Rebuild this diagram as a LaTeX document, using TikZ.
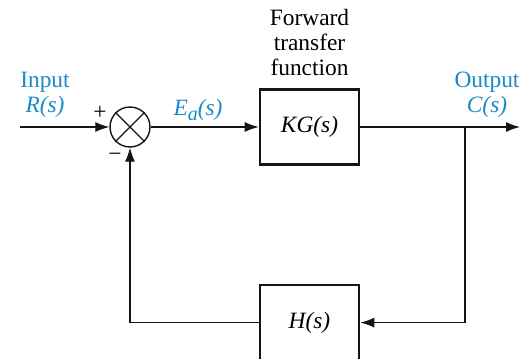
\documentclass[tikz,border=0pt]{standalone}
\usepackage{fontspec}
\setmainfont{Liberation Serif}
\usetikzlibrary{arrows.meta,positioning}
\definecolor{LabelBlue}{HTML}{1A8BC8}
\definecolor{LineBlack}{HTML}{151515}
\tikzset{
  block/.style={draw=LineBlack, line width=1.3pt, minimum width=49.5pt, minimum height=37.5pt, inner sep=0pt},
  sumjunction/.style={circle, draw=LineBlack, line width=0.7pt, minimum size=20pt, inner sep=0pt},
  line/.style={line width=0.6pt, draw=LineBlack},
  signal/.style={-{Latex[length=7pt,width=5pt]}, line width=0.6pt, draw=LineBlack},
  bluelabel/.style={text=LabelBlue, align=center, inner sep=0pt}
}

\begin{document}
\begin{tikzpicture}[x=0.5pt, y=-0.5pt, every node/.style={font=\fontsize{11.7}{12.5}\selectfont}]
\useasboundingbox (0,0) rectangle (521,359);
\node[sumjunction] (sum) at (130,127) {};
\draw[line] (sum.north west) -- (sum.south east);
\draw[line] (sum.north east) -- (sum.south west);
\node[block, right=54pt of sum] (kg) {\textit{KG(s)}};
\node[block, below=59pt of kg] (h) {\textit{H(s)}};
\node[above=6pt of kg, align=center, inner sep=0pt] (fwd) {Forward\\transfer\\function};
% signal path
\coordinate (in) at (20,127);
\coordinate (out) at (520,127);
\coordinate (branch) at (465,127);
\draw[signal] (in) -- (sum);
\draw[signal] (sum) -- (kg);
\draw[signal] (kg) -- (out);
% feedback path
\draw[signal] (branch) |- (h.east);
\draw[signal] (h.west) -| (sum.south);
% labels
\node[bluelabel] (inlabel) at (45,95) {Input\\\textit{R(s)}};
\node[bluelabel] (outlabel) at (487,95) {Output\\\textit{C(s)}};
\node[bluelabel] (errlabel) at (198,110) {\textit{E\raisebox{-0.45ex}{\fontsize{10}{10}\selectfont a}(s)}};
\node (plus) at (100,113) {+};
\node (minus) at (115,157) {−};
\end{tikzpicture}
\end{document}
